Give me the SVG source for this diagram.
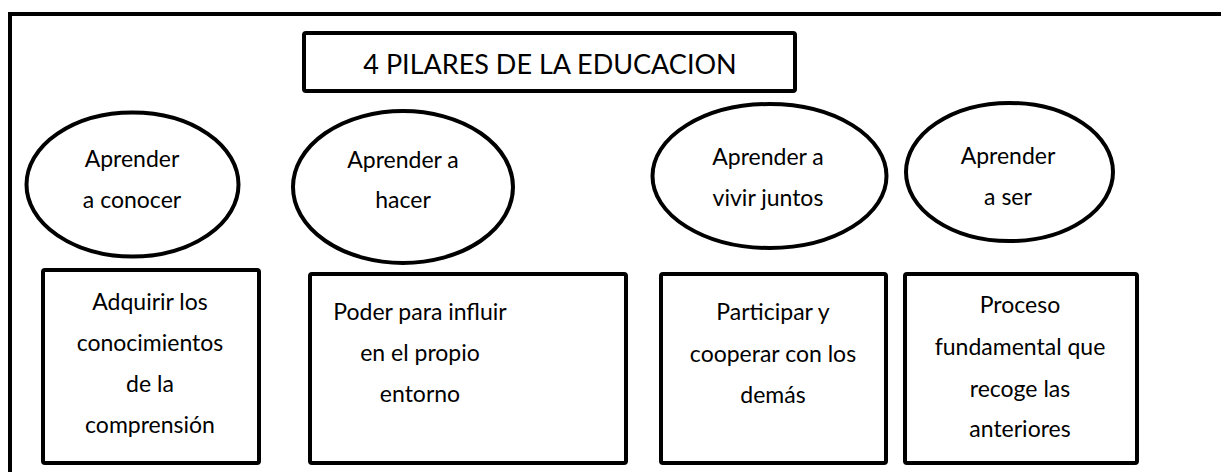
<svg xmlns="http://www.w3.org/2000/svg" width="1221" height="472" viewBox="0 0 1221 472">
<style>
.shape{fill:#fff;stroke:#000;stroke-width:4}
.t{font-family:Lato,"Open Sans","Liberation Sans",sans-serif;font-size:23px;fill:#000;text-anchor:middle}
.title{font-size:27px}
</style>
<rect width="1221" height="472" fill="#fff"/>
<g id="frame"><rect class="shape" x="10" y="14" width="1240" height="480"/></g>
<g id="title"><rect class="shape" x="304" y="33" width="491" height="58" rx="2"/><text class="t title" x="550" y="74">4 PILARES DE LA EDUCACION</text></g>
<g id="e1"><ellipse class="shape" cx="132.5" cy="184.5" rx="106" ry="72"/><text class="t" x="132" y="167">Aprender</text><text class="t" x="132" y="208">a conocer</text></g>
<g id="e2"><ellipse class="shape" cx="403" cy="187" rx="110" ry="76"/><text class="t" x="403" y="168">Aprender a</text><text class="t" x="403" y="208">hacer</text></g>
<g id="e3"><ellipse class="shape" cx="769.5" cy="176" rx="117" ry="72"/><text class="t" x="768" y="165">Aprender a</text><text class="t" x="768" y="206">vivir juntos</text></g>
<g id="e4"><ellipse class="shape" cx="1009.5" cy="172" rx="103.5" ry="69"/><text class="t" x="1008" y="164">Aprender</text><text class="t" x="1008" y="205">a ser</text></g>
<g id="b1"><rect class="shape" x="43" y="270" width="216" height="193" rx="2"/><text class="t" x="150" y="310">Adquirir los</text><text class="t" x="150" y="351">conocimientos</text><text class="t" x="150" y="392">de la</text><text class="t" x="150" y="433">comprensión</text></g>
<g id="b2"><rect class="shape" x="310" y="274" width="316" height="189" rx="2"/><text class="t" x="420" y="320">Poder para influir</text><text class="t" x="420" y="361">en el propio</text><text class="t" x="420" y="402">entorno</text></g>
<g id="b3"><rect class="shape" x="661" y="274" width="225" height="189" rx="2"/><text class="t" x="773" y="320">Participar y</text><text class="t" x="773" y="362">cooperar con los</text><text class="t" x="773" y="403">demás</text></g>
<g id="b4"><rect class="shape" x="905" y="274" width="232" height="189" rx="2"/><text class="t" x="1020" y="313">Proceso</text><text class="t" x="1020" y="355">fundamental que</text><text class="t" x="1020" y="397">recoge las</text><text class="t" x="1020" y="437">anteriores</text></g>
<g id="connectors"></g>
</svg>
